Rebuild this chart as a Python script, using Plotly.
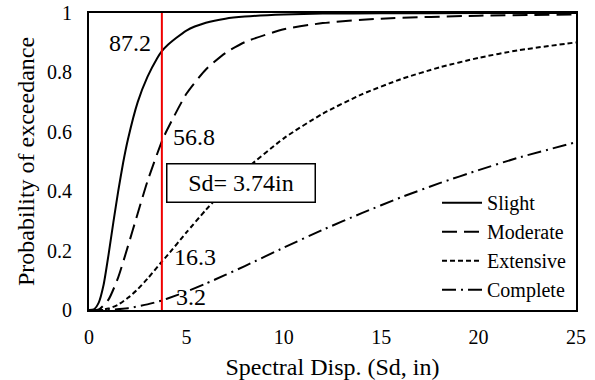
import plotly.graph_objects as go

# ---- data ----
sd_slight = [0, 0.25, 0.5, 0.75, 1.0, 1.25, 1.5, 1.75, 2.0, 2.5, 3.0, 3.5, 3.74, 4.0, 5.0, 6.0, 7.0, 8.0, 10.0, 12.0, 15.0, 20.0, 25.0]
p_slight = [0, 0.002, 0.025, 0.085, 0.185, 0.295, 0.40, 0.495, 0.575, 0.70, 0.785, 0.848, 0.872, 0.89, 0.941, 0.967, 0.981, 0.988, 0.995, 0.998, 0.999, 1.0, 1.0]

sd_moderate = [0, 0.5, 1.0, 1.5, 2.0, 2.5, 3.0, 3.74, 4.0, 5.0, 6.0, 7.0, 8.0, 10.0, 12.0, 15.0, 20.0, 25.0]
p_moderate = [0, 0.002, 0.035, 0.11, 0.215, 0.325, 0.433, 0.568, 0.605, 0.728, 0.81, 0.865, 0.902, 0.945, 0.966, 0.981, 0.991, 0.995]

sd_extensive = [0, 0.5, 1.0, 1.5, 2.0, 2.5, 3.0, 3.74, 4.0, 5.0, 6.0, 7.0, 8.0, 10.0, 12.0, 14.0, 16.0, 18.0, 20.0, 22.0, 25.0]
p_extensive = [0, 0.0003, 0.005, 0.018, 0.041, 0.07, 0.105, 0.163, 0.182, 0.261, 0.337, 0.407, 0.471, 0.578, 0.661, 0.726, 0.777, 0.817, 0.849, 0.874, 0.901]

sd_complete = [0, 1.0, 2.0, 3.0, 3.74, 4.0, 5.0, 6.0, 7.0, 8.0, 10.0, 12.0, 14.0, 16.0, 18.0, 20.0, 22.0, 25.0]
p_complete = [0, 0.0006, 0.006, 0.019, 0.032, 0.038, 0.062, 0.089, 0.118, 0.148, 0.21, 0.27, 0.326, 0.379, 0.427, 0.471, 0.512, 0.565]

series_names = ["Slight", "Moderate", "Extensive", "Complete"]
sd_mark = 3.74
mark_labels = ["87.2", "56.8", "16.3", "3.2"]
x_ticks = [0, 5, 10, 15, 20, 25]
y_ticks = [0, 0.2, 0.4, 0.6, 0.8, 1]
y_tick_text = ["0", "0.2", "0.4", "0.6", "0.8", "1"]

FONT = "Liberation Serif"
FS_TICK = 20
FS_TITLE = 24
FS_ANN = 24
FS_LEG = 20

dashes = ["solid", "15px,7px", "5px,3px", "14px,5px,2px,5px"]
xs = [sd_slight, sd_moderate, sd_extensive, sd_complete]
ys = [p_slight, p_moderate, p_extensive, p_complete]

fig = go.Figure()
for name, x, y, d in zip(series_names, xs, ys, dashes):
    fig.add_trace(go.Scatter(x=x, y=y, mode="lines", name=name,
                             line=dict(color="black", width=2, dash=d, shape="spline", smoothing=0.6)))

# vertical marker
fig.add_shape(type="line", x0=sd_mark, x1=sd_mark, y0=0, y1=1, xref="x", yref="y",
              line=dict(color="#f00000", width=2))

# value labels
label_pos = [(2.10, 0.899), (5.39, 0.582), (5.44, 0.178), (5.24, 0.044)]
for t, (lx, ly) in zip(mark_labels, label_pos):
    fig.add_annotation(x=lx, y=ly, xref="x", yref="y", text=t, showarrow=False,
                       font=dict(family=FONT, size=FS_ANN, color="black"))

fig.add_annotation(x=7.8, y=0.428, xref="x", yref="y", text=f"Sd= {sd_mark}in", showarrow=False,
                   font=dict(family=FONT, size=FS_ANN, color="black"),
                   bgcolor="white", bordercolor="black", borderwidth=1.5,
                   width=145, height=35)

fig.update_layout(
    width=595, height=380,
    margin=dict(l=89, r=19, t=13, b=70, autoexpand=False),
    paper_bgcolor="white", plot_bgcolor="white",
    font=dict(family=FONT, size=FS_TICK, color="black"),
    showlegend=True,
    legend=dict(x=0.7146, y=0.427, xanchor="left", yanchor="top",
                bgcolor="rgba(0,0,0,0)", font=dict(family=FONT, size=FS_LEG),
                tracegroupgap=0, itemwidth=40),
)
fig.update_xaxes(range=[0, 25], tickvals=x_ticks, showgrid=False, zeroline=False,
                 showline=True, mirror=True, linecolor="black", linewidth=2,
                 ticks="", ticklabelstandoff=8, automargin=False,
                 ticklabeloverflow="allow",
                 tickfont=dict(family=FONT, size=FS_TICK),
                 title=dict(text="Spectral Disp. (Sd, in)", standoff=11,
                            font=dict(family=FONT, size=FS_TITLE)))
fig.update_yaxes(range=[0, 1], tickvals=y_ticks, ticktext=y_tick_text, showgrid=False, zeroline=False,
                 showline=True, mirror=True, linecolor="black", linewidth=2,
                 ticks="", ticklabelstandoff=11, automargin=False,
                 ticklabeloverflow="allow",
                 tickfont=dict(family=FONT, size=FS_TICK),
                 title=dict(text="Probability of exceedance", standoff=6,
                            font=dict(family=FONT, size=FS_TITLE)))

fig.write_html("out.html", config={"displayModeBar": False},
               post_script="document.body.style.margin='0';")
